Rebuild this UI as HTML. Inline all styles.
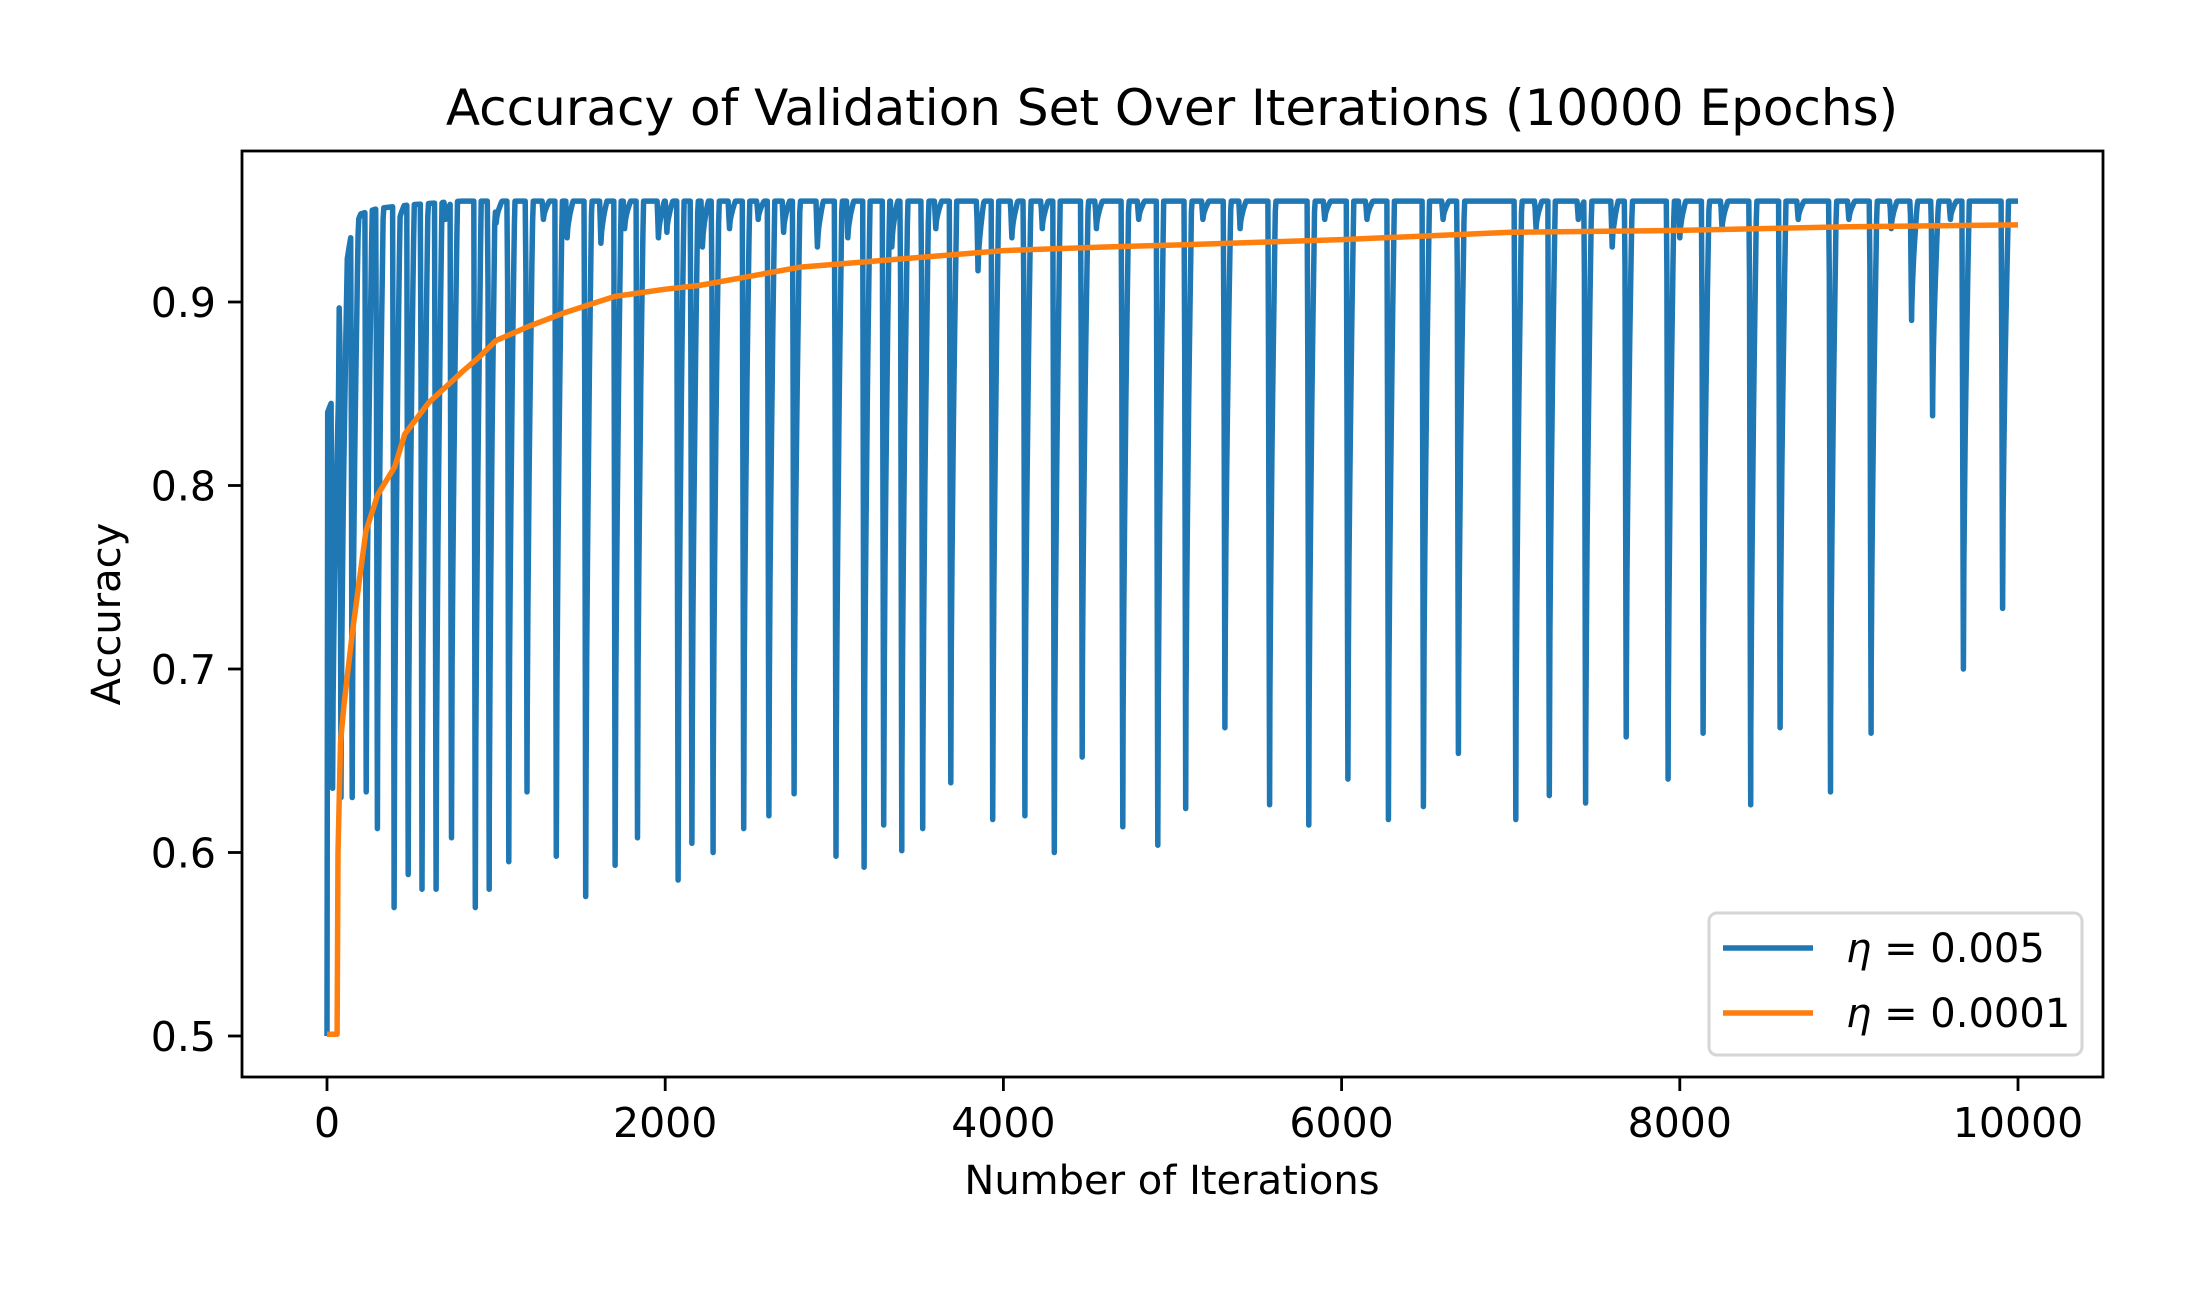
<!DOCTYPE html>
<html><head><meta charset="utf-8"><style>
html,body{margin:0;padding:0;background:#fff}
svg{display:block}
text{font-family:"DejaVu Sans","Liberation Sans",sans-serif;fill:#000}
</style></head><body>
<svg id="chart" width="2192" height="1292" viewBox="0 0 2192 1292">
<rect width="2192" height="1292" fill="#fff"/>
<text x="1172" y="125" font-size="50" text-anchor="middle">Accuracy of Validation Set Over Iterations (10000 Epochs)</text>
<g id="plot"></g>
<rect x="242" y="151" width="1861" height="926" fill="none" stroke="#000" stroke-width="2.8"/>
<g id="ticks"></g>
<text x="1172" y="1194" font-size="40" text-anchor="middle">Number of Iterations</text>
<text x="0" y="0" font-size="40" text-anchor="middle" transform="translate(120,614) rotate(-90)">Accuracy</text>
<g>
<rect x="1709" y="913" width="373" height="142" rx="8" fill="#fff" fill-opacity="0.8" stroke="#d6d6d6" stroke-width="3"/>
<line x1="1723" y1="948" x2="1813" y2="948" stroke="#1f77b4" stroke-width="5.5"/>
<text x="1846" y="962" font-size="40"><tspan font-style="italic">η</tspan> = 0.005</text>
<line x1="1723" y1="1013" x2="1813" y2="1013" stroke="#ff7f0e" stroke-width="5.5"/>
<text x="1846" y="1027" font-size="40"><tspan font-style="italic">η</tspan> = 0.0001</text>
</g>
</svg>
<script>
const xTicks=[0,2000,4000,6000,8000,10000];
const yTicks=[0.5,0.6,0.7,0.8,0.9];
const yTickLabels=["0.5","0.6","0.7","0.8","0.9"];
// blue: dips (iteration, value) — deep and shallow
const dipIters=[33,83,149,232,298,397,480,562,645,736,877,959,1075,1183,1356,1530,1704,1836,2076,2158,2283,2464,2613,2762,3010,3176,3292,3399,3523,3689,3937,4127,4301,4466,4706,4913,5078,5310,5574,5806,6037,6277,6484,6691,7030,7228,7443,7683,7931,8138,8419,8593,8891,9131,9371,9495,9677,9909,
 420,700,1000,1280,1420,1620,1760,1960,2010,2220,2380,2550,2700,2900,3080,3340,3600,3850,4050,4230,4550,4800,5180,5400,5900,6150,6600,7150,7400,7600,8000,8250,8700,9000,9250,9600];
const dipVals=[0.635,0.63,0.63,0.633,0.613,0.57,0.588,0.58,0.58,0.608,0.57,0.58,0.595,0.633,0.598,0.576,0.593,0.608,0.585,0.605,0.6,0.613,0.62,0.632,0.598,0.592,0.615,0.601,0.613,0.638,0.618,0.62,0.6,0.652,0.614,0.604,0.624,0.668,0.626,0.615,0.64,0.618,0.625,0.654,0.618,0.631,0.627,0.663,0.64,0.665,0.626,0.668,0.633,0.665,0.89,0.838,0.7,0.733,
 0.94,0.945,0.943,0.945,0.935,0.932,0.94,0.935,0.938,0.93,0.94,0.945,0.938,0.93,0.935,0.93,0.94,0.917,0.935,0.94,0.94,0.945,0.945,0.94,0.945,0.945,0.945,0.94,0.945,0.93,0.935,0.94,0.945,0.945,0.94,0.945];
// blue: upper envelope (iteration, value)
const topIters=[0,4,25,50,80,110,140,200,300,500,800,10000];
const topVals=[0.5,0.84,0.845,0.855,0.912,0.918,0.935,0.948,0.951,0.953,0.955,0.955];
// orange series
const orIters=[0,60,65,80,100,150,230,300,400,460,600,800,900,1000,1200,1400,1700,2000,2200,2500,2800,3200,3600,4000,4600,5000,6000,7000,8000,9000,10000];
const orVals=[0.501,0.501,0.6,0.66,0.68,0.72,0.775,0.795,0.81,0.828,0.845,0.862,0.87,0.879,0.887,0.894,0.903,0.907,0.909,0.914,0.919,0.922,0.925,0.928,0.93,0.931,0.934,0.938,0.939,0.941,0.942];

const X=v=>327+(v/10000)*(2018-327);
const Y=v=>1036-(v-0.5)/0.4*(1036-302);
const NS="http://www.w3.org/2000/svg";
const plot=document.getElementById('plot'), ticks=document.getElementById('ticks');
function topAt(it){for(let i=1;i<topIters.length;i++){if(it<=topIters[i]){const t=(it-topIters[i-1])/(topIters[i]-topIters[i-1]);return topVals[i-1]+t*(topVals[i]-topVals[i-1]);}}return topVals[topVals.length-1];}
function valAt(it){
 let v=topAt(it);
 dipIters.forEach((d,i)=>{
  const dv=dipVals[i], tp=topAt(d);
  let w=null;
  if(it>=d-8&&it<=d){w=(d-it)/8;}
  else if(it>d&&it<=d+35){w=Math.pow((it-d)/35,0.6);}
  if(w!==null){const c=dv+(tp-dv)*w; if(c<v)v=c;}
 });
 return v;
}
let its=[];for(let i=0;i<=10000;i+=4)its.push(i);
dipIters.forEach(d=>its.push(d));
its=[...new Set(its)].sort((a,b)=>a-b);
const dBlue=its.map((it,i)=>(i?'L':'M')+X(it).toFixed(1)+' '+Y(valAt(it)).toFixed(1)).join('');
const pb=document.createElementNS(NS,'path');
pb.setAttribute('d',dBlue);pb.setAttribute('fill','none');pb.setAttribute('stroke','#1f77b4');pb.setAttribute('stroke-width','5.5');pb.setAttribute('stroke-linejoin','round');


plot.appendChild(pb);
const po=document.createElementNS(NS,'path');
po.setAttribute('d',orIters.map((it,i)=>(i?'L':'M')+X(it).toFixed(1)+' '+Y(orVals[i]).toFixed(1)).join(''));
po.setAttribute('fill','none');po.setAttribute('stroke','#ff7f0e');po.setAttribute('stroke-width','5.5');po.setAttribute('stroke-linejoin','round');


plot.appendChild(po);
xTicks.forEach(v=>{
 const l=document.createElementNS(NS,'line');
 l.setAttribute('x1',X(v));l.setAttribute('x2',X(v));l.setAttribute('y1',1077);l.setAttribute('y2',1091);l.setAttribute('stroke','#000');l.setAttribute('stroke-width','2.8');
 
 
 ticks.appendChild(l);
 const t=document.createElementNS(NS,'text');
 t.setAttribute('x',X(v));t.setAttribute('y',1137);t.setAttribute('font-size','41');t.setAttribute('text-anchor','middle');t.textContent=String(v);
 
 
 ticks.appendChild(t);
});
yTicks.forEach((v,i)=>{
 const l=document.createElementNS(NS,'line');
 l.setAttribute('x1',228);l.setAttribute('x2',242);l.setAttribute('y1',Y(v));l.setAttribute('y2',Y(v));l.setAttribute('stroke','#000');l.setAttribute('stroke-width','2.8');
 
 
 ticks.appendChild(l);
 const t=document.createElementNS(NS,'text');
 t.setAttribute('x',216);t.setAttribute('y',Y(v)+15);t.setAttribute('font-size','41');t.setAttribute('text-anchor','end');t.textContent=yTickLabels[i];
 
 
 ticks.appendChild(t);
});
</script>
</body></html>
